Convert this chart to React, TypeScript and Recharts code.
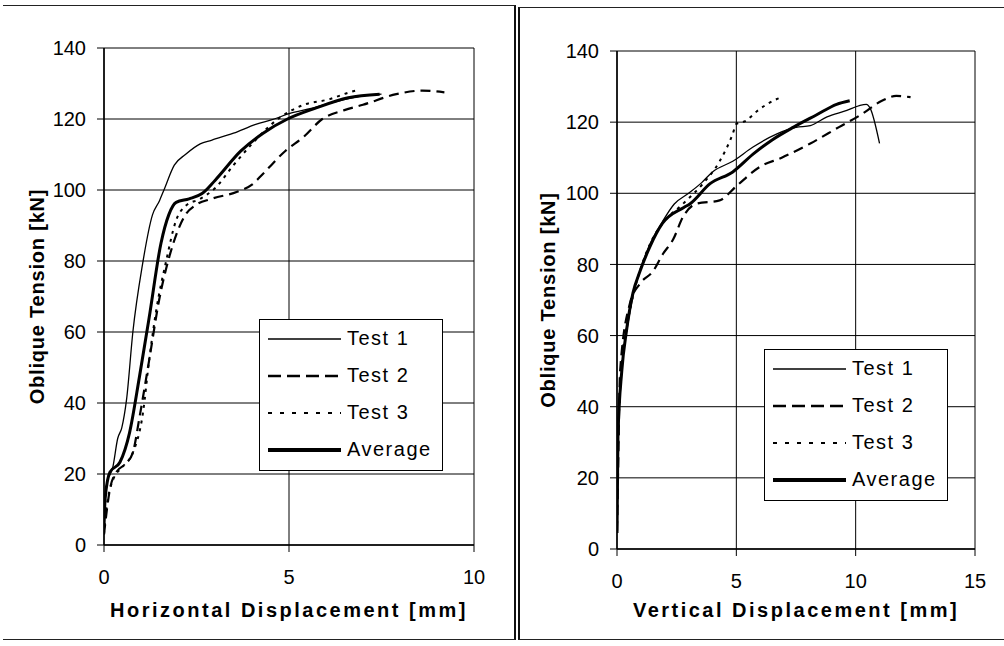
import { LineChart, Line, XAxis, YAxis, CartesianGrid, Legend } from "recharts"

type Pt = { x: number; y: number }

const FONT = '"Liberation Sans", Arial, Helvetica, sans-serif'

// left panel: horizontal displacement [mm] vs oblique tension [kN]
const hTest1: Pt[] = [
  { x: 0, y: 4 }, { x: 0.03, y: 12 }, { x: 0.08, y: 17.5 }, { x: 0.24, y: 22 },
  { x: 0.37, y: 30 }, { x: 0.48, y: 33 }, { x: 0.61, y: 41 }, { x: 0.78, y: 60 },
  { x: 1.04, y: 79 }, { x: 1.31, y: 93 }, { x: 1.5, y: 97 }, { x: 1.62, y: 100 },
  { x: 1.9, y: 107 }, { x: 2.2, y: 110 }, { x: 2.6, y: 113 }, { x: 2.9, y: 114 },
  { x: 3.5, y: 116 }, { x: 4.1, y: 118.5 }, { x: 4.6, y: 120 }, { x: 5.0, y: 121.5 },
  { x: 5.6, y: 123 }, { x: 6.3, y: 125 }, { x: 7.0, y: 126.5 }, { x: 7.5, y: 127 },
]
const hTest2: Pt[] = [
  { x: 0, y: 3 }, { x: 0.16, y: 15.7 }, { x: 0.33, y: 20.5 }, { x: 0.6, y: 23 },
  { x: 0.78, y: 26 }, { x: 0.96, y: 36 }, { x: 1.22, y: 52 }, { x: 1.49, y: 69 },
  { x: 1.76, y: 81 }, { x: 2.0, y: 88.7 }, { x: 2.2, y: 93 }, { x: 2.47, y: 95.7 },
  { x: 2.9, y: 97.5 }, { x: 3.6, y: 99.5 }, { x: 4.0, y: 101.5 }, { x: 4.3, y: 104.6 },
  { x: 4.9, y: 111 }, { x: 5.4, y: 115 }, { x: 5.9, y: 120 }, { x: 6.5, y: 122.5 },
  { x: 7.0, y: 124 }, { x: 7.9, y: 127 }, { x: 8.6, y: 128 }, { x: 9.2, y: 127.5 },
]
const hTest3: Pt[] = [
  { x: 0, y: 3 }, { x: 0.04, y: 8 }, { x: 0.25, y: 18.5 }, { x: 0.5, y: 22 },
  { x: 0.78, y: 26 }, { x: 1.05, y: 37 }, { x: 1.22, y: 52 }, { x: 1.41, y: 66 },
  { x: 1.68, y: 80 }, { x: 1.95, y: 91.5 }, { x: 2.2, y: 95.5 }, { x: 2.6, y: 97.5 },
  { x: 3.0, y: 100.5 }, { x: 3.5, y: 107 }, { x: 4.0, y: 113 }, { x: 4.7, y: 120 },
  { x: 5.4, y: 124 }, { x: 6.1, y: 125.6 }, { x: 6.6, y: 127.4 }, { x: 6.8, y: 128 },
]
const hAverage: Pt[] = [
  { x: 0, y: 5 }, { x: 0.03, y: 13 }, { x: 0.16, y: 20.5 }, { x: 0.43, y: 23.3 },
  { x: 0.69, y: 31.6 }, { x: 0.96, y: 47.5 }, { x: 1.22, y: 64 }, { x: 1.54, y: 85 },
  { x: 1.75, y: 93 }, { x: 1.95, y: 96.5 }, { x: 2.3, y: 97.5 }, { x: 2.65, y: 99 },
  { x: 3.0, y: 102.7 }, { x: 3.7, y: 111 }, { x: 4.3, y: 116 }, { x: 4.96, y: 120 },
  { x: 5.7, y: 123 }, { x: 6.6, y: 126 }, { x: 7.45, y: 127 },
]

// right panel: vertical displacement [mm] vs oblique tension [kN]
const vTest1: Pt[] = [
  { x: 0, y: 5 }, { x: 0.05, y: 30 }, { x: 0.2, y: 50 }, { x: 0.45, y: 63 },
  { x: 0.7, y: 72 }, { x: 1.0, y: 79 }, { x: 1.4, y: 86 }, { x: 1.9, y: 92 },
  { x: 2.4, y: 97 }, { x: 3.0, y: 100 }, { x: 3.55, y: 103 }, { x: 4.0, y: 106 },
  { x: 4.85, y: 109 }, { x: 5.7, y: 113 }, { x: 6.7, y: 116.7 }, { x: 7.5, y: 118.5 },
  { x: 8.1, y: 119 }, { x: 8.8, y: 121.5 }, { x: 9.5, y: 123 }, { x: 10.45, y: 125 },
  { x: 10.6, y: 124 }, { x: 11.0, y: 114 },
]
const vTest2: Pt[] = [
  { x: 0, y: 5 }, { x: 0.04, y: 20 }, { x: 0.13, y: 50 }, { x: 0.54, y: 69 },
  { x: 0.96, y: 74.6 }, { x: 1.5, y: 78 }, { x: 1.93, y: 83 }, { x: 2.35, y: 87 },
  { x: 2.77, y: 93.4 }, { x: 3.3, y: 97 }, { x: 4.3, y: 98 }, { x: 5.0, y: 102 },
  { x: 6.0, y: 107.5 }, { x: 6.9, y: 110 }, { x: 8.1, y: 114 }, { x: 9.3, y: 118.6 },
  { x: 10.2, y: 122 }, { x: 11.1, y: 126 }, { x: 11.7, y: 127.4 }, { x: 12.3, y: 127 },
]
const vTest3: Pt[] = [
  { x: 0, y: 5 }, { x: 0.05, y: 30 }, { x: 0.2, y: 52 }, { x: 0.45, y: 64 },
  { x: 0.7, y: 72 }, { x: 1.0, y: 79 }, { x: 1.4, y: 86 }, { x: 1.9, y: 91.5 },
  { x: 2.76, y: 97 }, { x: 3.6, y: 102.7 }, { x: 4.3, y: 109 }, { x: 4.85, y: 116.7 },
  { x: 5.0, y: 119.5 }, { x: 5.4, y: 120.4 }, { x: 5.85, y: 123 }, { x: 6.7, y: 126.5 },
  { x: 6.9, y: 127 },
]
const vAverage: Pt[] = [
  { x: 0, y: 4.5 }, { x: 0.04, y: 31.7 }, { x: 0.2, y: 50 }, { x: 0.4, y: 61.5 },
  { x: 0.67, y: 72 }, { x: 0.96, y: 78 }, { x: 1.38, y: 85 }, { x: 1.9, y: 91.5 },
  { x: 2.8, y: 96 }, { x: 3.05, y: 97 }, { x: 3.9, y: 102.7 }, { x: 4.85, y: 106 },
  { x: 5.7, y: 111 }, { x: 6.5, y: 115 }, { x: 7.4, y: 118.6 }, { x: 8.35, y: 122 },
  { x: 9.2, y: 125 }, { x: 9.75, y: 126 },
]

const seriesNames = ["Test 1", "Test 2", "Test 3", "Average"]
const yTicks = [0, 20, 40, 60, 80, 100, 120, 140]
const hTicks = [0, 5, 10]
const vTicks = [0, 5, 10, 15]

const lineStyles = [
  { width: 1.3, dash: undefined as string | undefined, legendWidth: 1.6, legendDash: undefined as string | undefined },
  { width: 2.2, dash: "10 6", legendWidth: 2.5, legendDash: "13 6" },
  { width: 2, dash: "3 5", legendWidth: 2, legendDash: "4 8" },
  { width: 3, dash: undefined, legendWidth: 4, legendDash: undefined },
]

const tickStyle = { fill: "#000", fontSize: 20, fontFamily: FONT }
const titleStyle = { fill: "#000", fontSize: 20, fontWeight: 700, fontFamily: FONT }

function LegendBox() {
  return (
    <div
      style={{
        width: 184,
        height: 152,
        border: "1.5px solid #000",
        background: "#fff",
        boxSizing: "border-box",
        fontFamily: FONT,
        fontSize: 20,
        letterSpacing: 1.5,
        color: "#000",
      }}
    >
      {seriesNames.map((name, i) => (
        <div key={name} style={{ height: 37, display: "flex", alignItems: "center" }}>
          <svg width={82} height={10} style={{ display: "block" }}>
            <line
              x1={8}
              y1={5}
              x2={81}
              y2={5}
              stroke="#000"
              strokeWidth={lineStyles[i].legendWidth}
              strokeDasharray={lineStyles[i].legendDash}
            />
          </svg>
          <span style={{ marginLeft: 5 }}>{name}</span>
        </div>
      ))}
    </div>
  )
}

interface PanelProps {
  width: number
  series: Pt[][]
  xMax: number
  xTicks: number[]
  xTitle: string
  margin: { top: number; right: number; left: number; bottom: number }
  yAxisWidth: number
  xAxisHeight: number
  yTitleOffset: number
  legendPos: { left: number; top: number }
}

function Panel({
  width,
  series,
  xMax,
  xTicks,
  xTitle,
  margin,
  yAxisWidth,
  xAxisHeight,
  yTitleOffset,
  legendPos,
}: PanelProps) {
  return (
    <LineChart width={width} height={640} margin={margin}>
      <CartesianGrid stroke="#000" strokeWidth={1} />
      <XAxis
        type="number"
        dataKey="x"
        domain={[0, xMax]}
        ticks={xTicks}
        allowDataOverflow
        height={xAxisHeight}
        tick={tickStyle}
        tickSize={7}
        tickMargin={18}
        axisLine={{ stroke: "#000", strokeWidth: 1.5 }}
        tickLine={{ stroke: "#000" }}
        label={{
          value: xTitle,
          position: "insideBottom",
          offset: 23,
          style: { ...titleStyle, letterSpacing: 2.5 },
        }}
      />
      <YAxis
        type="number"
        domain={[0, 140]}
        ticks={yTicks}
        width={yAxisWidth}
        tick={tickStyle}
        tickSize={7}
        tickMargin={11}
        axisLine={{ stroke: "#000", strokeWidth: 1.5 }}
        tickLine={{ stroke: "#000" }}
        label={{
          value: "Oblique Tension [kN]",
          angle: -90,
          position: "insideLeft",
          offset: yTitleOffset,
          style: { ...titleStyle, letterSpacing: 0.8, textAnchor: "middle" },
        }}
      />
      <Legend
        layout="vertical"
        align="center"
        verticalAlign="middle"
        content={() => <LegendBox />}
        wrapperStyle={{ left: legendPos.left, top: legendPos.top, width: 184 }}
      />
      {series.map((data, i) => (
        <Line
          key={seriesNames[i]}
          data={data}
          dataKey="y"
          name={seriesNames[i]}
          type="monotone"
          stroke="#000"
          strokeWidth={lineStyles[i].width}
          strokeDasharray={lineStyles[i].dash}
          dot={false}
          activeDot={false}
          isAnimationActive={false}
        />
      ))}
    </LineChart>
  )
}

export default function App() {
  return (
    <div
      style={{
        position: "absolute",
        left: 0,
        top: 0,
        width: 1004,
        height: 646,
        background: "#fff",
        fontFamily: FONT,
        overflow: "hidden",
      }}
    >
      {/* panel frames */}
      <div
        style={{
          position: "absolute",
          left: 3,
          top: 5,
          width: 511,
          height: 633,
          borderTop: "1.5px solid #222",
          borderRight: "2px solid #111",
          borderBottom: "1.5px solid #222",
        }}
      />
      <div
        style={{
          position: "absolute",
          left: 518,
          top: 7,
          width: 490,
          height: 631,
          borderTop: "1.5px solid #222",
          borderLeft: "2px solid #111",
          borderBottom: "1.5px solid #222",
        }}
      />

      <div style={{ position: "absolute", left: 0, top: 0 }}>
        <Panel
          width={515}
          series={[hTest1, hTest2, hTest3, hAverage]}
          xMax={10}
          xTicks={hTicks}
          xTitle="Horizontal Displacement [mm]"
          margin={{ top: 48, right: 41, left: 0, bottom: 0 }}
          yAxisWidth={104}
          xAxisHeight={95}
          yTitleOffset={37}
          legendPos={{ left: 259, top: 319 }}
        />
      </div>

      <div style={{ position: "absolute", left: 518, top: 0 }}>
        <Panel
          width={486}
          series={[vTest1, vTest2, vTest3, vAverage]}
          xMax={15}
          xTicks={vTicks}
          xTitle="Vertical Displacement [mm]"
          margin={{ top: 51, right: 29, left: 0, bottom: 0 }}
          yAxisWidth={99}
          xAxisHeight={91}
          yTitleOffset={30}
          legendPos={{ left: 246, top: 349 }}
        />
      </div>
    </div>
  )
}
